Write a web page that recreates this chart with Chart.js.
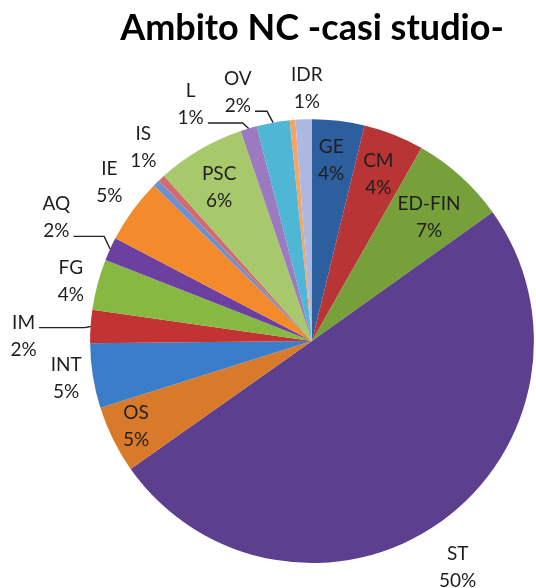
<!DOCTYPE html>
<html>
<head>
<meta charset="utf-8">
<script src="https://cdn.jsdelivr.net/npm/chart.js@4.4.1/dist/chart.umd.min.js"></script>
<style>
  html, body { margin: 0; padding: 0; background: #fff; }
  #wrap { width: 536px; height: 588px; }
</style>
</head>
<body>
<div id="wrap"><canvas id="myChart"></canvas></div>
<script>
// data (percent of case studies, clockwise from 12 o'clock)
const categories = ['GE', 'CM', 'ED-FIN', 'ST', 'OS', 'INT', 'IM', 'FG', 'AQ', 'IE', 'IS', '', 'PSC', 'L', 'OV', '', 'IDR'];
const values = [3.8, 4.4, 6.9, 50, 4.9, 4.7, 2.4, 3.7, 1.7, 4.7, 0.5, 0.5, 6.4, 1.2, 2.4, 0.4, 1.2];
const sliceColors = ['#2d5e9e', '#b93434', '#77a03b', '#5c3f8e', '#d97a2b', '#3b7dc8', '#c43333', '#87b841',
  '#6b40a0', '#f38a2b', '#6f90d0', '#d56a6c', '#a7c96b', '#9c7ac0', '#50b6d6', '#f7a461', '#abb9e0'];

// label placement: radius factor and angle shift (degrees) from slice middle
const labelRadius = [0.82, 0.81, 0.77, 1.21, 0.88, 1.12, 1.30, 1.12, 1.28, 1.16, 1.16, 0, 0.81, 1.20, 1.17, 0, 1.14];
const labelShift = [-0.8, 0, 1.2, 2.5, 0.6, 0.6, -2.7, -0.8, 1.3, 2, 3.6, 0, -0.8, -10.5, -6.5, 0, 1];
// leader lines: which text line it starts from (0 = none)
const leaderLine = [0, 0, 0, 0, 0, 0, 1, 0, 2, 0, 0, 0, 0, 2, 2, 0, 0];

const labelPlugin = {
  id: 'labelPlugin',
  afterDatasetsDraw(chart) {
    const ctx = chart.ctx;
    const meta = chart.getDatasetMeta(0);
    const total = values.reduce((s, v) => s + v, 0);
    ctx.save();
    ctx.font = '19px Lato';
    ctx.textAlign = 'center';
    ctx.textBaseline = 'middle';
    ctx.fillStyle = '#1e1e1e';
    ctx.strokeStyle = '#222';
    ctx.lineWidth = 1.4;
    meta.data.forEach((arc, i) => {
      if (!categories[i]) return;
      const cx = arc.x, cy = arc.y, R = arc.outerRadius;
      const mid = (arc.startAngle + arc.endAngle) / 2;
      const a = mid + labelShift[i] * Math.PI / 180;
      const lx = cx + Math.cos(a) * R * labelRadius[i];
      const ly = cy + Math.sin(a) * R * labelRadius[i];
      const pct = Math.round(values[i] / total * 100) + '%';
      ctx.fillText(categories[i], lx, ly - 13);
      ctx.fillText(pct, lx, ly + 14);

      if (leaderLine[i]) {
        const txt = leaderLine[i] === 1 ? categories[i] : pct;
        const ty = leaderLine[i] === 1 ? ly - 13 : ly + 14;
        const sx = lx + ctx.measureText(txt).width / 2 + 4;
        const sy = ty + 5;
        const ex = cx + Math.cos(mid) * R;
        const ey = cy + Math.sin(mid) * R;
        ctx.beginPath();
        ctx.moveTo(sx, sy);
        ctx.lineTo(Math.max(sx, ex - 6), sy);
        ctx.lineTo(ex, ey);
        ctx.stroke();
      }
    });
    ctx.restore();
  }
};

const ctx = document.getElementById('myChart').getContext('2d');
const myChart = new Chart(ctx, {
  type: 'pie',
  data: {
    labels: categories,
    datasets: [{
      data: values,
      backgroundColor: sliceColors,
      borderWidth: 0
    }]
  },
  options: {
    responsive: true,
    maintainAspectRatio: false,
    animation: false,
    layout: {
      padding: { left: 90, right: 2, top: 0, bottom: 25 }
    },
    plugins: {
      legend: { display: false },
      tooltip: { enabled: false },
      title: {
        display: true,
        text: 'Ambito NC -casi studio-',
        color: '#000',
        font: { family: 'Lato', size: 36, weight: 'bold' },
        padding: { top: 7, bottom: 69 }
      }
    }
  },
  plugins: [labelPlugin]
});
</script>
</body>
</html>
